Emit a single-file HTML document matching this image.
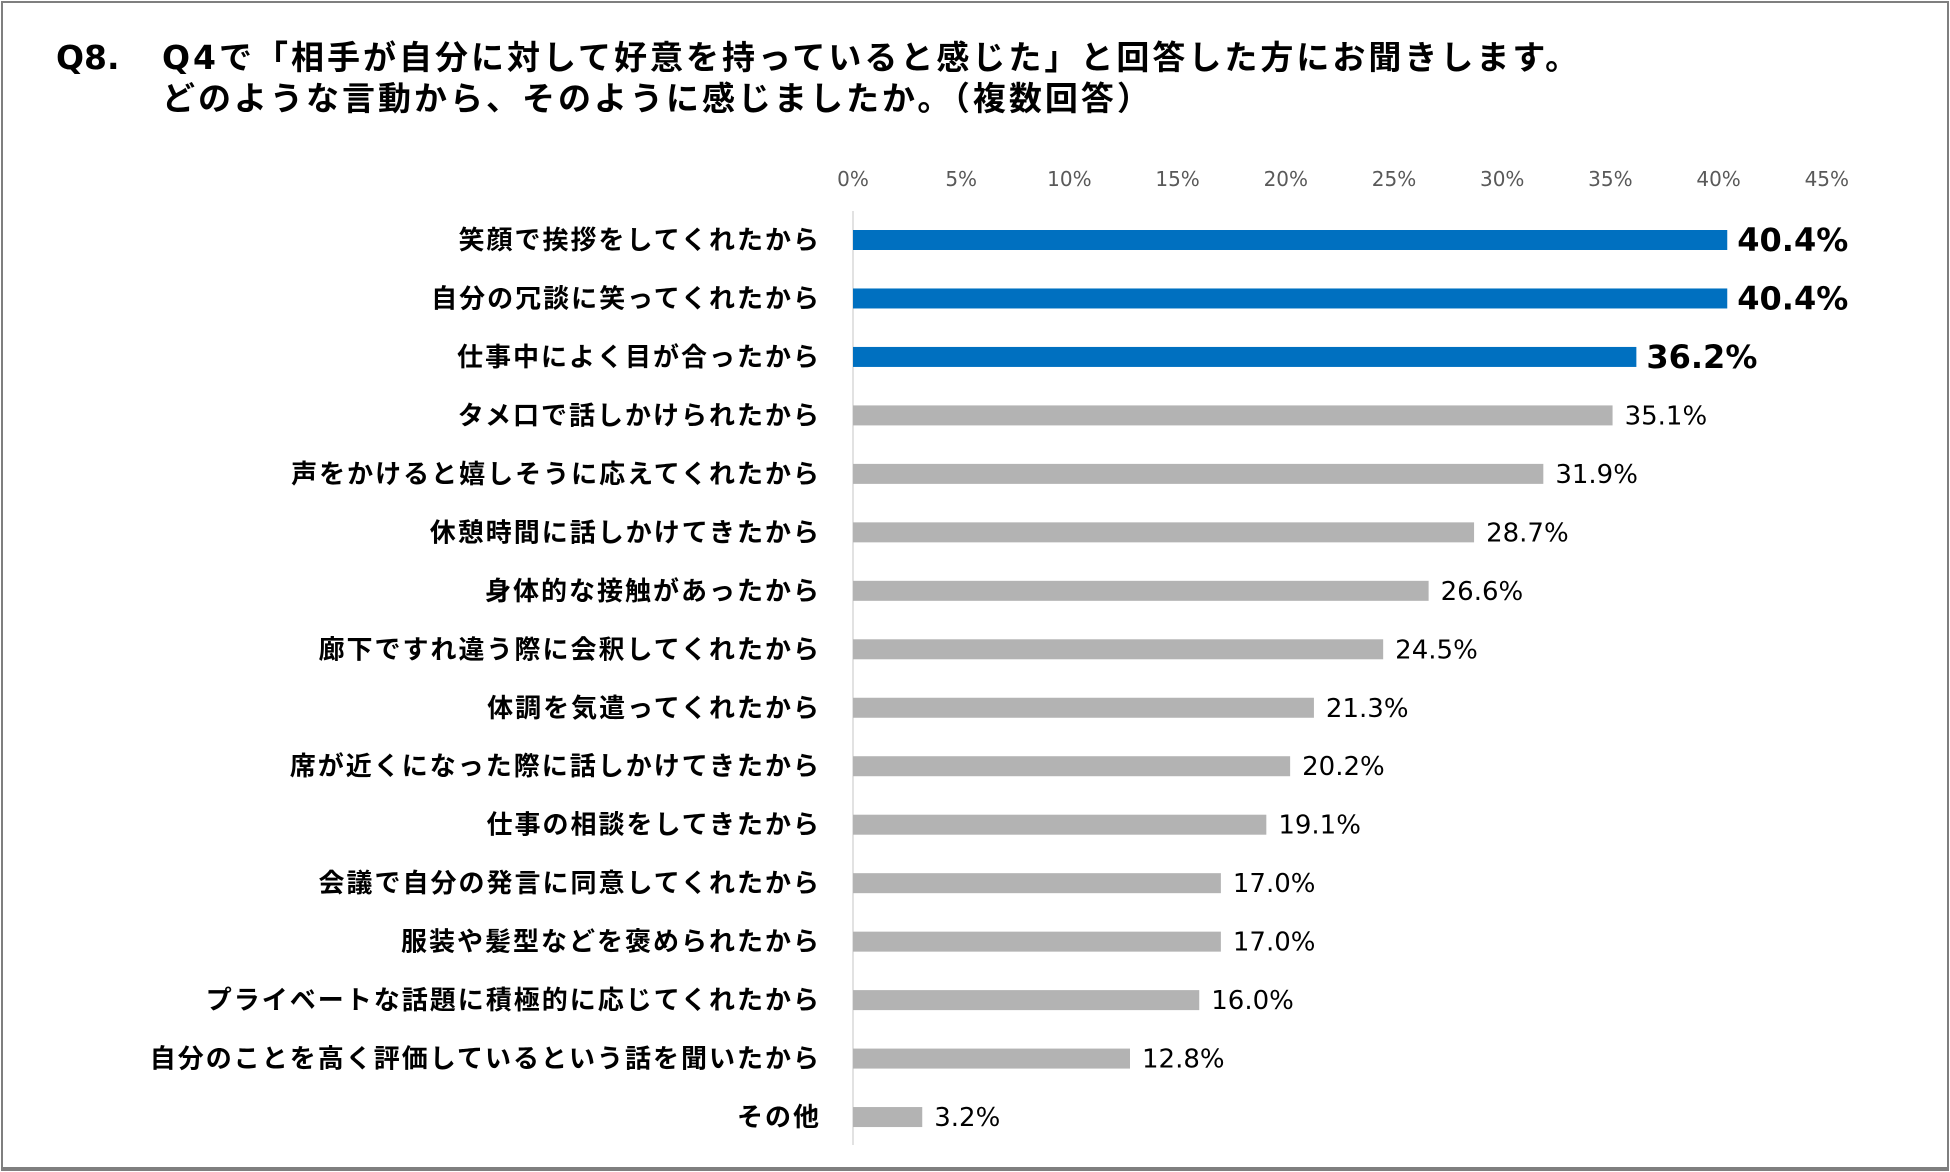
<!DOCTYPE html>
<html><head><meta charset="utf-8">
<style>
html,body{margin:0;padding:0;background:#fff;}
#wrap{position:relative;width:1950px;height:1172px;overflow:hidden;font-family:"Liberation Sans","Noto Sans CJK JP",sans-serif;}
#frame{position:absolute;left:1px;top:1px;width:1944px;height:1164px;border:2px solid #7f7f7f;border-bottom-width:4px;}
.t{position:absolute;font-weight:bold;font-size:33px;letter-spacing:3px;color:#000;white-space:nowrap;line-height:48px;font-family:"DejaVu Sans","Noto Sans CJK JP",sans-serif;}
</style></head><body>
<div id="wrap">
<div id="frame"></div>
<div class="t" style="left:56px;top:34px;letter-spacing:0">Q8.</div>
<div class="t" style="left:162px;top:34px">Q4で「相手が自分に対して好意を持っていると感じた」と回答した方にお聞きします。</div>
<div class="t" style="left:162px;top:75px">どのような言動から、そのように感じましたか。（複数回答）</div>
<svg id="chart" width="1950" height="1172" style="position:absolute;left:0;top:0"></svg>
</div>
<script>
const categories=["笑顔で挨拶をしてくれたから","自分の冗談に笑ってくれたから","仕事中によく目が合ったから","タメ口で話しかけられたから","声をかけると嬉しそうに応えてくれたから","休憩時間に話しかけてきたから","身体的な接触があったから","廊下ですれ違う際に会釈してくれたから","体調を気遣ってくれたから","席が近くになった際に話しかけてきたから","仕事の相談をしてきたから","会議で自分の発言に同意してくれたから","服装や髪型などを褒められたから","プライベートな話題に積極的に応じてくれたから","自分のことを高く評価しているという話を聞いたから","その他"];
const values=[40.4,40.4,36.2,35.1,31.9,28.7,26.6,24.5,21.3,20.2,19.1,17.0,17.0,16.0,12.8,3.2];
const ticks=[0,5,10,15,20,25,30,35,40,45];
const highlightCount=3;
const NS="http://www.w3.org/2000/svg";
const svg=document.getElementById('chart');
const x0=853,pxPer=21.64,y0=240,rowH=58.47,barH=20;
const xs=v=>x0+v*pxPer;
const ys=i=>y0+i*rowH;
function mk(t,a){const e=document.createElementNS(NS,t);for(const k in a)e.setAttribute(k,a[k]);svg.appendChild(e);return e;}
ticks.forEach(t=>{
 const e=mk('text',{x:xs(t),y:186,'text-anchor':'middle','font-size':20,fill:'#595959','font-family':'DejaVu Sans, sans-serif'});
 
 
 e.textContent=t+'%';
});
const ax=mk('line',{x1:x0,x2:x0,y1:211,y2:1145,stroke:'#d9d9d9','stroke-width':1.5});


categories.forEach((c,i)=>{
 const y=ys(i),hi=i<highlightCount;
 const lb=mk('text',{x:821,y:y+9,'text-anchor':'end','font-size':26,'letter-spacing':2,'font-weight':'bold',fill:'#000','font-family':'DejaVu Sans, Noto Sans CJK JP, sans-serif'});
 
 
 lb.textContent=c;
 const r=mk('rect',{x:x0,y:y-barH/2,width:xs(values[i])-x0,height:barH,fill:hi?'#0070c0':'#b3b3b3'});
 
 
 const v=mk('text',{x:xs(values[i])+(hi?10:12),y:y+(hi?11:9),'font-size':hi?32:26,'font-weight':hi?'bold':'normal',fill:'#000','font-family':'DejaVu Sans, sans-serif'});
 
 
 v.textContent=values[i].toFixed(1)+'%';
});
</script>
</body></html>
